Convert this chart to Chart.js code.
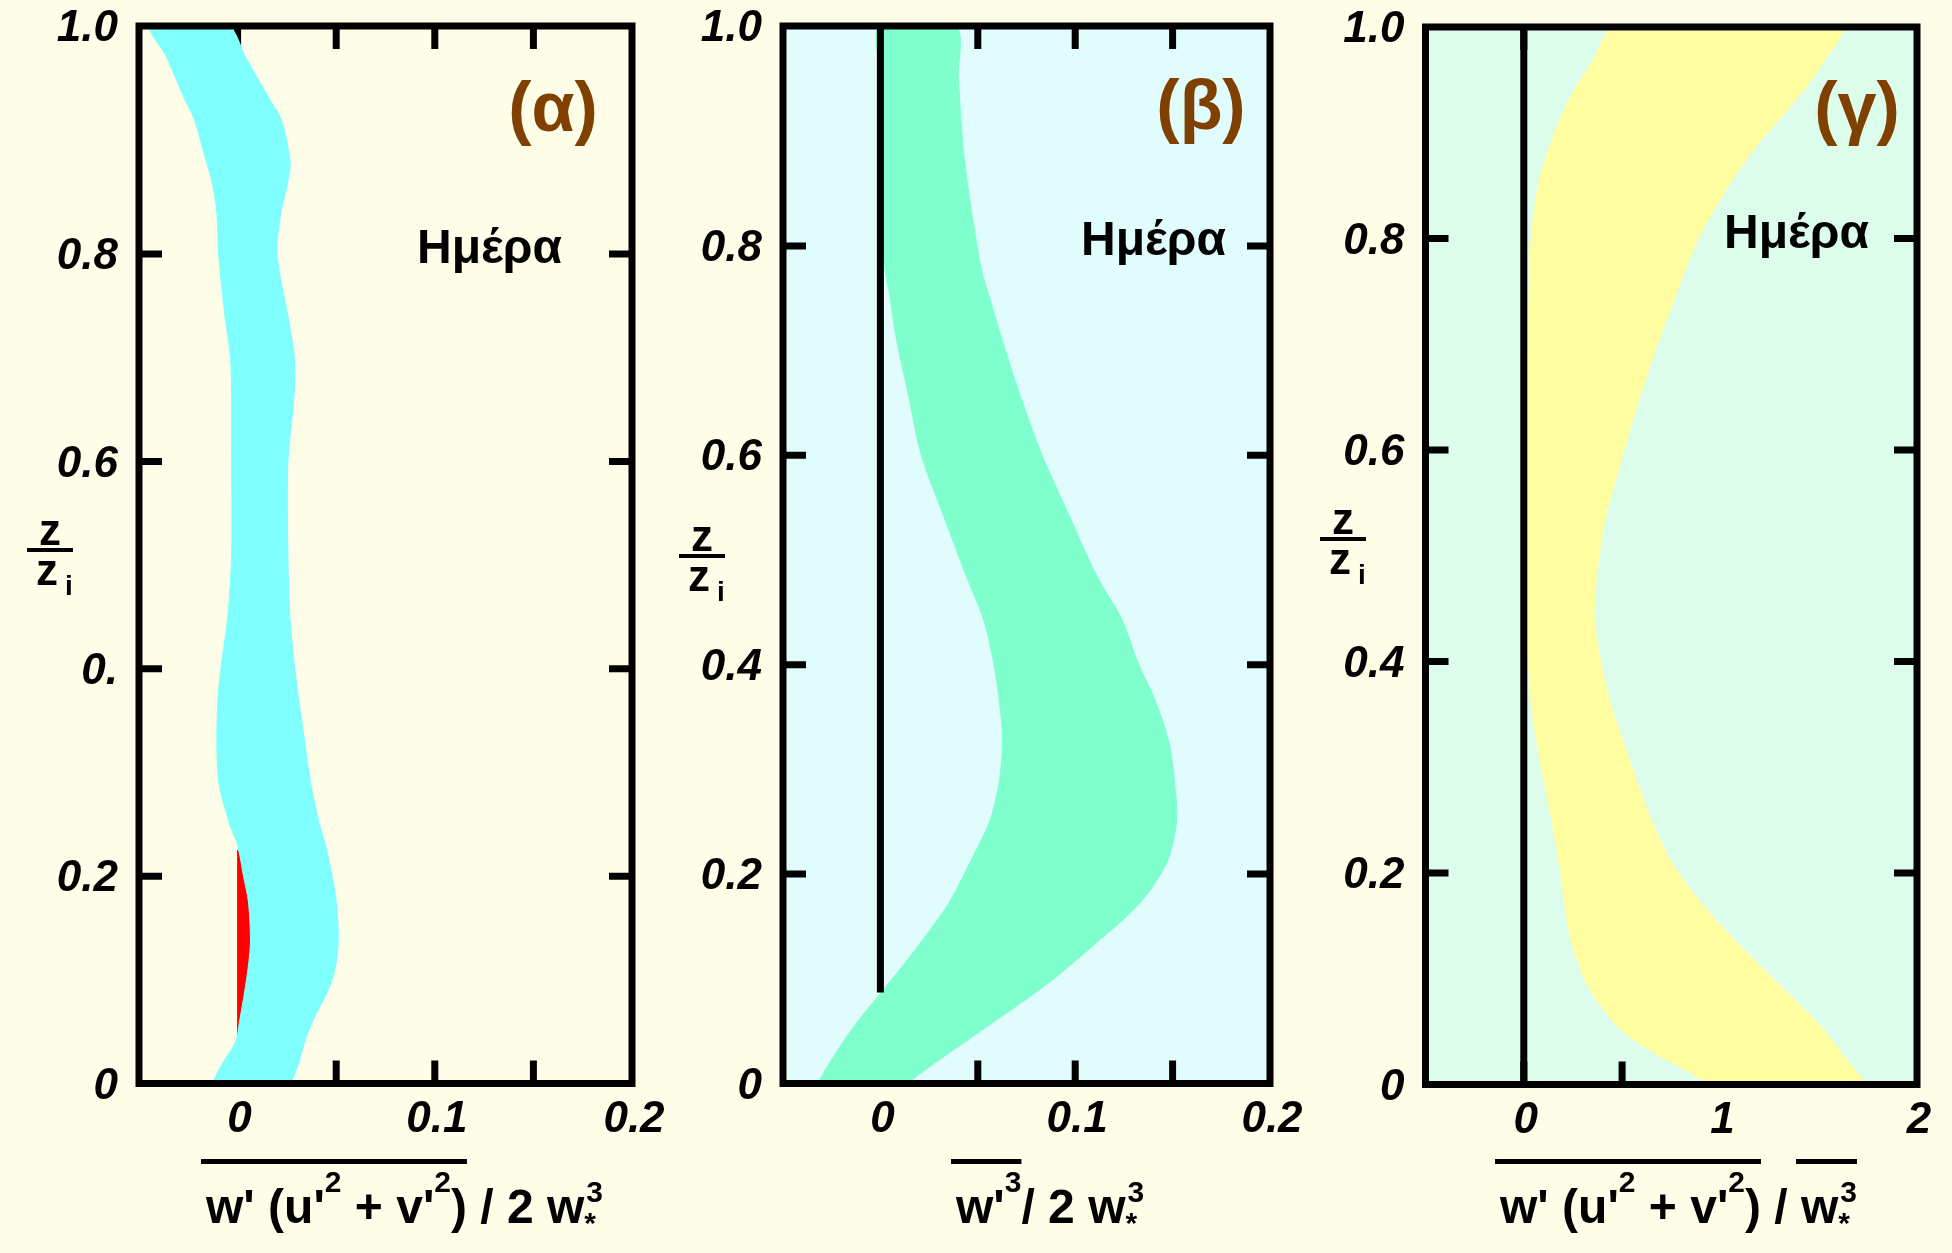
<!DOCTYPE html>
<html lang="el">
<head>
<meta charset="UTF-8">
<title>Ημέρα - κατακόρυφες ροές</title>
<script src="https://cdn.jsdelivr.net/npm/chart.js"></script>
<style>
  body { margin: 0; background: #fdfde8; width: 1952px; height: 1253px; overflow: hidden; position: relative; }
  canvas { position: absolute; left: 0; top: 0; }
</style>
</head>
<body>
<canvas id="panelA" width="1952" height="1253"></canvas>
<canvas id="panelB" width="1952" height="1253"></canvas>
<canvas id="panelC" width="1952" height="1253"></canvas>
<script>
// ---- data (band edges, x value at each height z/zi) ----
const zAlpha     = [0, 0.02, 0.04, 0.06, 0.10, 0.135, 0.175, 0.20, 0.23, 0.25, 0.29, 0.33, 0.37, 0.40, 0.45, 0.51, 0.60, 0.66, 0.70, 0.74, 0.80, 0.84, 0.87, 0.89, 0.93, 0.95, 0.99, 1.02];
const alphaLeft  = [-0.013, -0.0075, -0.001, 0.001, 0.0045, 0.0065, 0.0055, 0.003, 0.000, -0.004, -0.0095, -0.0105, -0.010, -0.0085, -0.005, -0.003, -0.003, -0.003, -0.0036, -0.0064, -0.0096, -0.0105, -0.013, -0.016, -0.022, -0.027, -0.036, -0.044];
const alphaRight = [0.027, 0.031, 0.034, 0.038, 0.048, 0.051, 0.050, 0.048, 0.0445, 0.0415, 0.037, 0.034, 0.031, 0.029, 0.0265, 0.0255, 0.0255, 0.0285, 0.0288, 0.0255, 0.020, 0.022, 0.0255, 0.0266, 0.022, 0.016, 0.004, -0.005];

// small red sliver next to zero in panel (α)
const zRed     = [0.045, 0.06, 0.10, 0.135, 0.175, 0.20, 0.225];
const redRight = [0.000, 0.003, 0.006, 0.008, 0.007, 0.005, 0.000];

const zBeta     = [0, 0.017, 0.056, 0.095, 0.133, 0.172, 0.211, 0.25, 0.288, 0.327, 0.366, 0.403, 0.443, 0.485, 0.542, 0.60, 0.656, 0.713, 0.751, 0.77, 0.80, 0.884, 0.96, 1.01];
const betaLeft  = [-0.032, -0.027, -0.013, 0.004, 0.020, 0.035, 0.046, 0.056, 0.061, 0.0627, 0.061, 0.058, 0.053, 0.044, 0.0325, 0.021, 0.0146, 0.008, 0.005, 0.003, 0.001, 0.000, 0.000, 0.000];
const betaRight = [0.0136, 0.026, 0.056, 0.0856, 0.110, 0.133, 0.147, 0.152, 0.151, 0.148, 0.141, 0.132, 0.124, 0.111, 0.097, 0.083, 0.072, 0.062, 0.056, 0.0528, 0.0496, 0.043, 0.040, 0.0386];
const betaZeroLineStart = 0.087;

const zGamma     = [0, 0.018, 0.037, 0.056, 0.094, 0.133, 0.171, 0.209, 0.247, 0.285, 0.324, 0.362, 0.406, 0.45, 0.527, 0.593, 0.641, 0.698, 0.756, 0.80, 0.851, 0.889, 0.928, 0.966, 1.0];
const gammaLeft  = [0.955, 0.780, 0.600, 0.470, 0.325, 0.245, 0.208, 0.180, 0.145, 0.105, 0.067, 0.038, 0.022, 0.02, 0.02, 0.02, 0.02, 0.022, 0.028, 0.038, 0.075, 0.135, 0.222, 0.345, 0.47];
const gammaRight = [1.750, 1.665, 1.585, 1.505, 1.300, 1.090, 0.905, 0.755, 0.655, 0.578, 0.505, 0.438, 0.385, 0.358, 0.405, 0.500, 0.575, 0.676, 0.792, 0.887, 1.045, 1.190, 1.370, 1.520, 1.611];

// ticks and labels
const yTicks       = [0, 0.2, 0.4, 0.6, 0.8, 1.0];
const yLabelsAlpha = ['0', '0.2', '0.', '0.6', '0.8', '1.0'];
const yLabels      = ['0', '0.2', '0.4', '0.6', '0.8', '1.0'];
const yMarks       = [0.2, 0.4, 0.6, 0.8];
const xTicksSmall  = [0, 0.1, 0.2];
const xLabelsSmall = ['0', '0.1', '0.2'];
const xMarksSmall  = [0, 0.05, 0.1, 0.15];
const xTicksGamma  = [0, 1, 2];
const xLabelsGamma = ['0', '1', '2'];
const xMarksGamma  = [0, 0.5, 1, 1.5];

const FONT = '"Liberation Sans", Arial, Helvetica, sans-serif';
const W = 1952, H = 1253;

// layout of each panel (pixel frame, axis ranges, colours, text)
const panels = [
  {
    id: 'panelA', left: 139, top: 26, right: 632, bottom: 1083.5,
    xMin: -0.05, xMax: 0.2, yMax: 1.02, plotBg: null,
    xTicks: xTicksSmall, xLabels: xLabelsSmall, xMarks: xMarksSmall,
    yLabels: yLabelsAlpha, zeroFrom: null,
    bands: [
      { z: zAlpha, left: alphaLeft, right: alphaRight, color: '#80ffff' },
      { z: zRed, left: zRed.map(() => 0), right: redRight, color: '#ff0000' }
    ],
    tag: '(α)', tagX: 553, tagY: 112, dayX: 417,
    fracX: 50, fracY: 550,
    title: ["w' (u'", '^2', " + v'", '^2', ')', ' / 2 w', '^3_*'], over: [[0, 4]], titleX: 206
  },
  {
    id: 'panelB', left: 783, top: 26, right: 1270, bottom: 1083.5,
    xMin: -0.05, xMax: 0.2, yMax: 1.01, plotBg: '#e0fcfc',
    xTicks: xTicksSmall, xLabels: xLabelsSmall, xMarks: xMarksSmall,
    yLabels: yLabels, zeroFrom: betaZeroLineStart,
    bands: [
      { z: zBeta, left: betaLeft, right: betaRight, color: '#7fffce' }
    ],
    tag: '(β)', tagX: 1201, tagY: 110, dayX: 1081,
    fracX: 702, fracY: 556,
    title: ["w'", '^3', '/ 2 w', '^3_*'], over: [[0, 1]], titleX: 956
  },
  {
    id: 'panelC', left: 1425.5, top: 27, right: 1917, bottom: 1084.5,
    xMin: -0.5, xMax: 2, yMax: 1.0, plotBg: '#dcfcec',
    xTicks: xTicksGamma, xLabels: xLabelsGamma, xMarks: xMarksGamma,
    yLabels: yLabels, zeroFrom: 0,
    bands: [
      { z: zGamma, left: gammaLeft, right: gammaRight, color: '#fffda0' }
    ],
    tag: '(γ)', tagX: 1857, tagY: 112, dayX: 1724,
    fracX: 1343, fracY: 539,
    title: ["w' (u'", '^2', " + v'", '^2', ')', ' / ', 'w', '^3_*'], over: [[0, 4], [6, 7]], titleX: 1500
  }
];

function shapePoints(z, left, right) {
  const down = z.map((v, i) => ({ x: left[i], y: v }));
  const up = z.map((v, i) => ({ x: right[i], y: v })).reverse();
  return down.concat(up);
}

// formula under the x axis, with superscripts and overlines
function drawTitle(ctx, tokens, over, x0, base) {
  const big = `bold 48px ${FONT}`;
  const small = `bold 30px ${FONT}`;
  let x = x0;
  const spans = [];
  ctx.textAlign = 'left';
  ctx.textBaseline = 'alphabetic';
  tokens.forEach(tk => {
    const start = x;
    if (tk[0] === '^' && tk.includes('_')) {
      const [sup, sub] = tk.slice(1).split('_');
      ctx.font = small;
      ctx.fillText(sup, x + 2, base - 21);
      ctx.fillText(sub, x, base + 10);
      x += Math.max(ctx.measureText(sup).width, ctx.measureText(sub).width) + 2;
    } else if (tk[0] === '^') {
      ctx.font = small;
      ctx.fillText(tk.slice(1), x, base - 31);
      x += ctx.measureText(tk.slice(1)).width;
    } else {
      ctx.font = big;
      ctx.fillText(tk, x, base);
      x += ctx.measureText(tk).width;
    }
    spans.push([start, x]);
  });
  ctx.fillStyle = '#000';
  over.forEach(([i, j]) => {
    ctx.fillRect(spans[i][0] - 5, base - 64, spans[j][1] - spans[i][0] + 5, 5);
  });
}

function decorPlugin(p) {
  return {
    id: 'decor',
    beforeDatasetsDraw(chart) {
      const { ctx, chartArea: a, scales: { x, y } } = chart;
      ctx.save();
      if (p.plotBg) {
        ctx.fillStyle = p.plotBg;
        ctx.fillRect(a.left, a.top, a.right - a.left, a.bottom - a.top);
      }
      // inward tick marks on all four sides
      const len = 23;
      ctx.strokeStyle = '#000';
      ctx.lineWidth = 7;
      ctx.beginPath();
      p.xMarks.forEach(v => {
        const px = x.getPixelForValue(v);
        ctx.moveTo(px, a.top); ctx.lineTo(px, a.top + len);
        ctx.moveTo(px, a.bottom); ctx.lineTo(px, a.bottom - len);
      });
      yMarks.forEach(v => {
        const py = y.getPixelForValue(v);
        ctx.moveTo(a.left, py); ctx.lineTo(a.left + len, py);
        ctx.moveTo(a.right, py); ctx.lineTo(a.right - len, py);
      });
      ctx.stroke();
      ctx.restore();
    },
    afterDatasetsDraw(chart) {
      const { ctx, chartArea: a, scales: { x, y } } = chart;
      ctx.save();
      ctx.strokeStyle = '#000';
      ctx.lineWidth = 7;
      ctx.strokeRect(a.left, a.top, a.right - a.left, a.bottom - a.top);

      ctx.fillStyle = '#000';
      ctx.font = `italic bold 44px ${FONT}`;
      ctx.textAlign = 'right';
      ctx.textBaseline = 'middle';
      yTicks.forEach((v, i) => {
        const py = i === yTicks.length - 1 ? a.top : y.getPixelForValue(v);
        ctx.fillText(p.yLabels[i], a.left - 21, py + 3);
      });
      ctx.textAlign = 'center';
      p.xTicks.forEach((v, i) => {
        ctx.fillText(p.xLabels[i], x.getPixelForValue(v) + 2, a.bottom + 36);
      });

      // z / zi fraction
      ctx.font = `bold 44px ${FONT}`;
      ctx.textAlign = 'center';
      ctx.textBaseline = 'alphabetic';
      ctx.fillText('z', p.fracX, p.fracY - 5);
      ctx.fillRect(p.fracX - 23, p.fracY - 2, 46, 4);
      ctx.fillText('z', p.fracX - 3, p.fracY + 35);
      ctx.font = `bold 28px ${FONT}`;
      ctx.fillText('i', p.fracX + 19, p.fracY + 45);

      // panel tag and "Ημέρα"
      ctx.fillStyle = '#804000';
      ctx.font = `bold 70px ${FONT}`;
      ctx.textBaseline = 'middle';
      ctx.fillText(p.tag, p.tagX, p.tagY);
      ctx.fillStyle = '#000';
      ctx.font = `bold 48px ${FONT}`;
      ctx.textAlign = 'left';
      ctx.textBaseline = 'alphabetic';
      ctx.fillText('Ημέρα', p.dayX, y.getPixelForValue(0.8) + 9);

      drawTitle(ctx, p.title, p.over, p.titleX, 1223);
      ctx.restore();
    }
  };
}

panels.forEach(p => {
  const datasets = [];
  if (p.zeroFrom !== null) {
    // vertical zero line, drawn on top of the band
    datasets.push({
      data: [{ x: 0, y: p.zeroFrom }, { x: 0, y: p.yMax }],
      showLine: true,
      fill: false,
      borderColor: '#000',
      borderWidth: 7,
      pointRadius: 0
    });
  }
  p.bands.forEach(b => datasets.push({
    data: shapePoints(b.z, b.left, b.right),
    showLine: true,
    fill: 'shape',
    backgroundColor: b.color,
    borderColor: b.color,
    borderWidth: 1,
    pointRadius: 0,
    tension: 0.3
  }));

  new Chart(document.getElementById(p.id), {
    type: 'scatter',
    data: { datasets },
    options: {
      responsive: false,
      animation: false,
      events: [],
      layout: { padding: { left: p.left, top: p.top, right: W - p.right, bottom: H - p.bottom } },
      scales: {
        x: { type: 'linear', min: p.xMin, max: p.xMax, display: false },
        y: { type: 'linear', min: 0, max: p.yMax, display: false }
      },
      plugins: { legend: { display: false }, tooltip: { enabled: false } }
    },
    plugins: [decorPlugin(p)]
  });
});
</script>
</body>
</html>
